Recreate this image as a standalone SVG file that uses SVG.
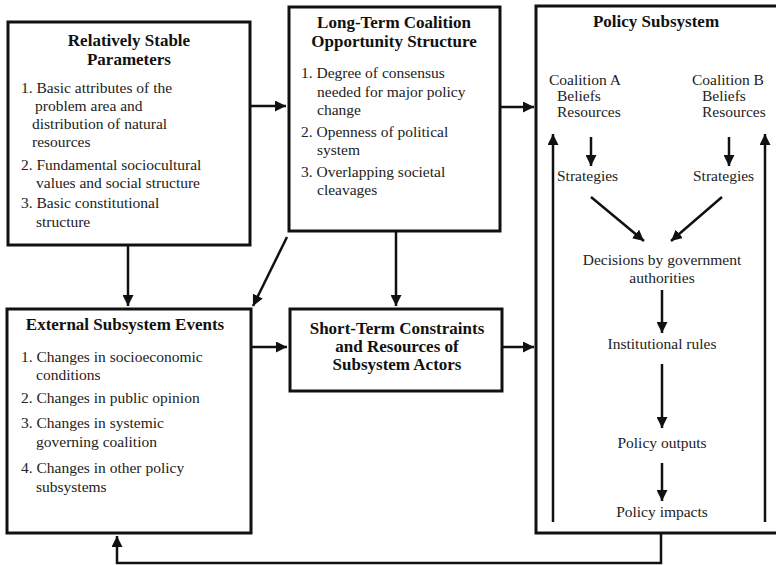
<svg xmlns="http://www.w3.org/2000/svg" width="776" height="565" viewBox="0 0 776 565">
<style>
.t{font-size:15.5px;fill:#222}
.h{font-size:17px;font-weight:bold;fill:#111}
.c{text-anchor:middle}
.box{fill:#fff;stroke:#111;stroke-width:3}
.ln{stroke:#111;stroke-width:2.5;fill:none}
</style>
<defs>
<marker id="ah" markerUnits="userSpaceOnUse" markerWidth="12" markerHeight="11" refX="11" refY="5.5" orient="auto">
<path d="M0,0 L11,5.5 L0,11 z" fill="#111"/>
</marker>
</defs>
<rect width="776" height="565" fill="#fff"/>
<g font-family="'Liberation Serif', 'Times New Roman', 'DejaVu Serif', serif">
<g id="stable-parameters">
<rect class="box" x="8" y="22" width="242" height="223"/>
<text class="h c" x="129" y="46">Relatively Stable</text>
<text class="h c" x="129" y="65">Parameters</text>
<text class="t" x="21" y="93">1. Basic attributes of the</text>
<text class="t" x="35" y="111">problem area and</text>
<text class="t" x="32" y="129">distribution of natural</text>
<text class="t" x="32" y="147">resources</text>
<text class="t" x="21" y="170">2. Fundamental sociocultural</text>
<text class="t" x="36" y="188">values and social structure</text>
<text class="t" x="21" y="208">3. Basic constitutional</text>
<text class="t" x="36" y="227">structure</text>
</g>

<g id="long-term">
<rect class="box" x="289" y="7" width="211" height="224"/>
<text class="h c" x="394" y="28">Long-Term Coalition</text>
<text class="h c" x="394" y="47">Opportunity Structure</text>
<text class="t" x="301" y="78">1. Degree of consensus</text>
<text class="t" x="317" y="97">needed for major policy</text>
<text class="t" x="317" y="115">change</text>
<text class="t" x="301" y="137">2. Openness of political</text>
<text class="t" x="317" y="155">system</text>
<text class="t" x="301" y="177">3. Overlapping societal</text>
<text class="t" x="317" y="195">cleavages</text>
</g>

<g id="external-events">
<rect class="box" x="7" y="309" width="244" height="224"/>
<text class="h c" x="125" y="330">External Subsystem Events</text>
<text class="t" x="21" y="362">1. Changes in socioeconomic</text>
<text class="t" x="36" y="380">conditions</text>
<text class="t" x="21" y="403">2. Changes in public opinion</text>
<text class="t" x="21" y="428">3. Changes in systemic</text>
<text class="t" x="36" y="447">governing coalition</text>
<text class="t" x="21" y="473">4. Changes in other policy</text>
<text class="t" x="36" y="492">subsystems</text>
</g>

<g id="short-term">
<rect class="box" x="290" y="309" width="212" height="82"/>
<text class="h c" x="397" y="334">Short-Term Constraints</text>
<text class="h c" x="397" y="352">and Resources of</text>
<text class="h c" x="397" y="370">Subsystem Actors</text>
</g>

<g id="policy-subsystem">
<rect class="box" x="536" y="6" width="250" height="527"/>
<text class="h c" x="656" y="27">Policy Subsystem</text>
<text class="t" x="549" y="85">Coalition A</text>
<text class="t" x="557" y="101">Beliefs</text>
<text class="t" x="557" y="117">Resources</text>
<text class="t" x="692" y="85">Coalition B</text>
<text class="t" x="702" y="101">Beliefs</text>
<text class="t" x="702" y="117">Resources</text>
<text class="t" x="557" y="181">Strategies</text>
<text class="t" x="693" y="181">Strategies</text>
<text class="t c" x="662" y="265">Decisions by government</text>
<text class="t c" x="662" y="283">authorities</text>
<text class="t c" x="662" y="349">Institutional rules</text>
<text class="t c" x="662" y="448">Policy outputs</text>
<text class="t c" x="662" y="517">Policy impacts</text>
<line class="ln" x1="553" y1="522" x2="553" y2="134" marker-end="url(#ah)"/>
<line class="ln" x1="765" y1="522" x2="765" y2="134" marker-end="url(#ah)"/>
<line class="ln" x1="591" y1="137" x2="591" y2="166" marker-end="url(#ah)"/>
<line class="ln" x1="729" y1="137" x2="729" y2="166" marker-end="url(#ah)"/>
<line class="ln" x1="591" y1="197" x2="644" y2="241" marker-end="url(#ah)"/>
<line class="ln" x1="722" y1="197" x2="671" y2="241" marker-end="url(#ah)"/>
<line class="ln" x1="662" y1="290" x2="662" y2="333" marker-end="url(#ah)"/>
<line class="ln" x1="662" y1="364" x2="662" y2="428" marker-end="url(#ah)"/>
<line class="ln" x1="662" y1="463" x2="662" y2="501" marker-end="url(#ah)"/>
</g>
</g>
<g id="connectors">
<line class="ln" x1="250" y1="106" x2="286" y2="106" marker-end="url(#ah)"/>
<line class="ln" x1="500" y1="107" x2="534" y2="107" marker-end="url(#ah)"/>
<line class="ln" x1="128" y1="245" x2="128" y2="306" marker-end="url(#ah)"/>
<line class="ln" x1="287" y1="237" x2="253" y2="306" marker-end="url(#ah)"/>
<line class="ln" x1="396" y1="231" x2="396" y2="306" marker-end="url(#ah)"/>
<line class="ln" x1="251" y1="347" x2="287" y2="347" marker-end="url(#ah)"/>
<line class="ln" x1="502" y1="347" x2="534" y2="347" marker-end="url(#ah)"/>
<polyline class="ln" points="661,533 661,563 117,563 117,536" marker-end="url(#ah)"/>
</g>
</svg>
